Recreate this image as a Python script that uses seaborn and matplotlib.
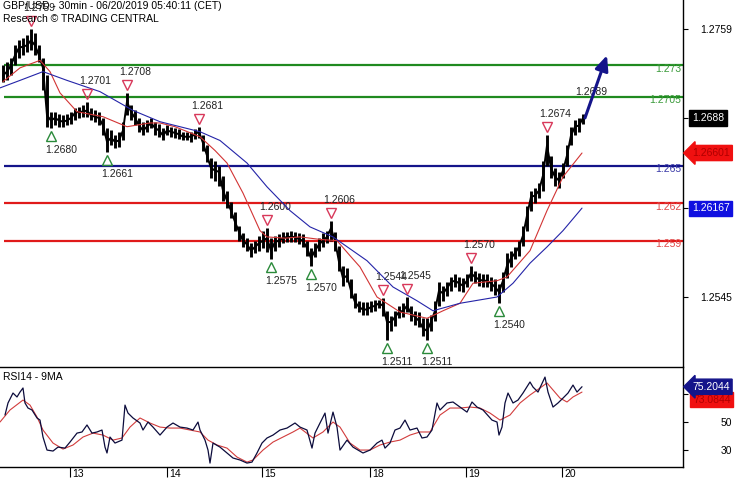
import matplotlib
matplotlib.use('Agg')
import matplotlib.pyplot as plt
import matplotlib.transforms as mtransforms
import numpy as np
import seaborn as sns

# price bars (30min, grouped two at a time)
close = [1.2722, 1.2725, 1.2730, 1.2738, 1.2744, 1.2745, 1.2746, 1.2750, 1.2746, 1.2738,
         1.2728, 1.2690, 1.2686, 1.2688, 1.2686, 1.2685, 1.2686, 1.2688, 1.2692, 1.2693,
         1.2693, 1.2694, 1.2690, 1.2689, 1.2688, 1.2682, 1.2669, 1.2672, 1.2669, 1.2670,
         1.2678, 1.2701, 1.2693, 1.2688, 1.2682, 1.2678, 1.2681, 1.2684, 1.2680, 1.2678,
         1.2674, 1.2678, 1.2677, 1.2676, 1.2675, 1.2673, 1.2673, 1.2673, 1.2675, 1.2677,
         1.2668, 1.2658, 1.2648, 1.2646, 1.2645, 1.2630, 1.2622, 1.2614, 1.2605, 1.2597,
         1.2590, 1.2587, 1.2582, 1.2585, 1.2588, 1.2590, 1.2592, 1.2582, 1.2589, 1.2590,
         1.2592, 1.2593, 1.2593, 1.2593, 1.2591, 1.2590, 1.2584, 1.2576, 1.2582, 1.2587,
         1.2590, 1.2593, 1.2600, 1.2590, 1.2573, 1.2560, 1.2562, 1.2550, 1.2541, 1.2537,
         1.2535, 1.2535, 1.2537, 1.2538, 1.2540, 1.2538, 1.2525, 1.2525, 1.2529, 1.2533,
         1.2534, 1.2538, 1.2532, 1.2529, 1.2526, 1.2520, 1.2518, 1.2525, 1.2534, 1.2550,
         1.2548, 1.2552, 1.2557, 1.2558, 1.2556, 1.2554, 1.2558, 1.2564, 1.2561, 1.2559,
         1.2558, 1.2558, 1.2556, 1.2553, 1.2549, 1.2558, 1.2570, 1.2576, 1.2580, 1.2585,
         1.2594, 1.2610, 1.2625, 1.2626, 1.2630, 1.2642, 1.2666, 1.2648, 1.2641, 1.2638,
         1.2646, 1.2658, 1.2674, 1.2681, 1.2682, 1.2688]
high = [1.2730, 1.2733, 1.2736, 1.2746, 1.2750, 1.2752, 1.2754, 1.2759, 1.2756, 1.2746,
        1.2736, 1.2722, 1.2693, 1.2693, 1.2691, 1.2690, 1.2691, 1.2693, 1.2696, 1.2697,
        1.2698, 1.2701, 1.2696, 1.2694, 1.2693, 1.2688, 1.2680, 1.2678, 1.2674, 1.2677,
        1.2685, 1.2708, 1.2698, 1.2694, 1.2688, 1.2685, 1.2686, 1.2688, 1.2685, 1.2683,
        1.2680, 1.2682, 1.2681, 1.2680, 1.2679, 1.2677, 1.2677, 1.2677, 1.2679, 1.2681,
        1.2674, 1.2666, 1.2656, 1.2654, 1.2650, 1.2642, 1.2630, 1.2621, 1.2613, 1.2602,
        1.2596, 1.2592, 1.2588, 1.2590, 1.2594, 1.2598, 1.2600, 1.2592, 1.2594, 1.2595,
        1.2597, 1.2597, 1.2598, 1.2597, 1.2596, 1.2595, 1.2590, 1.2584, 1.2588, 1.2592,
        1.2596, 1.2598, 1.2606, 1.2597, 1.2586, 1.2570, 1.2568, 1.2559, 1.2548, 1.2542,
        1.2541, 1.2541, 1.2542, 1.2543, 1.2543, 1.2544, 1.2534, 1.2530, 1.2534, 1.2538,
        1.2540, 1.2545, 1.2538, 1.2534, 1.2533, 1.2528, 1.2528, 1.2531, 1.2542, 1.2557,
        1.2554, 1.2557, 1.2561, 1.2563, 1.2561, 1.2560, 1.2563, 1.2570, 1.2566, 1.2564,
        1.2563, 1.2563, 1.2561, 1.2559, 1.2555, 1.2565, 1.2580, 1.2582, 1.2585, 1.2590,
        1.2602, 1.2618, 1.2630, 1.2632, 1.2636, 1.2654, 1.2674, 1.2658, 1.2648, 1.2645,
        1.2652, 1.2666, 1.2681, 1.2686, 1.2688, 1.2691]
low = [1.2717, 1.2718, 1.2722, 1.2730, 1.2736, 1.2738, 1.2741, 1.2742, 1.2738, 1.2733,
       1.2710, 1.2681, 1.2680, 1.2682, 1.2681, 1.2681, 1.2682, 1.2683, 1.2686, 1.2688,
       1.2689, 1.2689, 1.2686, 1.2685, 1.2682, 1.2674, 1.2661, 1.2666, 1.2664, 1.2665,
       1.2670, 1.2690, 1.2686, 1.2682, 1.2677, 1.2674, 1.2677, 1.2680, 1.2674, 1.2673,
       1.2670, 1.2674, 1.2673, 1.2672, 1.2671, 1.2670, 1.2670, 1.2669, 1.2671, 1.2672,
       1.2662, 1.2653, 1.2640, 1.2638, 1.2634, 1.2622, 1.2616, 1.2608, 1.2598, 1.2590,
       1.2585, 1.2582, 1.2577, 1.2580, 1.2582, 1.2584, 1.2581, 1.2575, 1.2582, 1.2585,
       1.2588, 1.2589, 1.2589, 1.2589, 1.2587, 1.2585, 1.2578, 1.2570, 1.2577, 1.2582,
       1.2585, 1.2588, 1.2590, 1.2582, 1.2566, 1.2554, 1.2557, 1.2544, 1.2536, 1.2533,
       1.2531, 1.2531, 1.2533, 1.2534, 1.2536, 1.2530, 1.2511, 1.2518, 1.2522, 1.2528,
       1.2529, 1.2533, 1.2526, 1.2523, 1.2521, 1.2514, 1.2511, 1.2518, 1.2526, 1.2538,
       1.2542, 1.2546, 1.2550, 1.2553, 1.2550, 1.2549, 1.2553, 1.2558, 1.2556, 1.2554,
       1.2553, 1.2553, 1.2550, 1.2547, 1.2540, 1.2549, 1.2560, 1.2569, 1.2575, 1.2578,
       1.2586, 1.2598, 1.2614, 1.2620, 1.2624, 1.2630, 1.2650, 1.2640, 1.2634, 1.2632,
       1.2640, 1.2650, 1.2666, 1.2674, 1.2677, 1.2683]

# swing points flagged on the chart (index into the bars above)
swing_high_idx = [7, 21, 31, 49, 66, 82, 95, 101, 117, 136]
swing_low_idx = [12, 26, 67, 77, 96, 106, 124]

# moving averages (bar position, value)
red_ma_bar = [1.5, 10, 20, 25, 30, 38.5, 51.5, 63.5, 75, 80, 87.5, 100, 107.5, 113.5, 121.5,
              130, 133.5, 142.5, 150, 160, 168.5, 175, 180, 188.5, 200, 213.5, 221.5, 230,
              236.5, 248.5, 253.5, 265, 273.5, 281.5, 291]
red_ma = [1.2717, 1.2728, 1.2734, 1.2725, 1.2708, 1.2693, 1.2689, 1.2681, 1.2684, 1.2684,
          1.2681, 1.2673, 1.2662, 1.2652, 1.2628, 1.2598, 1.2593, 1.2592, 1.2593, 1.2591,
          1.2590, 1.2578, 1.2569, 1.2545, 1.2533, 1.2528, 1.2534, 1.2540, 1.2556, 1.2558,
          1.2561, 1.2582, 1.2614, 1.2641, 1.2660]
blue_ma_bar = [0, 10, 21.5, 33.5, 50, 66.5, 80, 100, 110, 123.5, 133.5, 145, 155, 166.5,
               183.5, 196.5, 208.5, 216.5, 230, 248.5, 256.5, 265, 273.5, 281.5, 291]
blue_ma = [1.2712, 1.2718, 1.2725, 1.2718, 1.2709, 1.2694, 1.2685, 1.2677, 1.2670, 1.2652,
           1.2633, 1.2614, 1.2601, 1.2593, 1.2574, 1.2553, 1.2542, 1.2534, 1.2540, 1.2545,
           1.2556, 1.2572, 1.2585, 1.2598, 1.2616]

# key levels
green_levels = [1.2730, 1.2705]
green_labels = ['1.273', '1.2705']
navy_levels = [1.2650]
navy_labels = ['1.265']
red_levels = [1.2620, 1.2590]
red_labels = ['1.262', '1.259']
arrow_target = (303.5, 1.2738)

# RSI14 and its 9MA
rsi_bar = [2.5, 4, 6.5, 8.5, 10, 11.5, 12.5, 14, 16, 18.5,
           20, 21.5, 23.5, 26.5, 29, 32.5, 35, 38.5, 41, 43.5,
           46, 48.5, 51, 52.5, 53.5, 55, 57.5, 61, 62.5, 64,
           66.5, 70, 71.5, 74, 76.5, 80, 83.5, 86.5, 90, 93.5,
           96.5, 99, 100, 102.5, 104, 105, 106.5, 110, 113.5, 116.5,
           120, 123.5, 126, 128.5, 131, 133.5, 136.5, 140, 143.5, 147.5,
           150, 153.5, 156, 157.5, 160, 162.5, 164, 166.5, 168.5, 170,
           173.5, 176.5, 181.5, 185, 188.5, 191, 192.5, 195, 197.5, 200,
           202.5, 205, 208.5, 211, 213.5, 216, 218.5, 220, 223.5, 226.5,
           230, 233.5, 236, 238.5, 241.5, 246, 248.5, 249.5, 251, 252.5,
           254, 256.5, 259, 261.5, 265, 266.5, 269, 272.5, 274, 276.5,
           279, 281.5, 284, 286.5, 288.5, 291]
rsi = [55.0, 63.6, 70.7, 67.9, 71.4, 74.3, 63.6, 60.0, 58.6, 52.9,
       51.4, 39.3, 30.0, 29.3, 32.1, 31.4, 35.7, 42.1, 42.9, 47.9,
       42.1, 42.9, 44.3, 32.1, 27.9, 39.3, 35.0, 37.1, 62.1, 56.4,
       52.9, 49.3, 44.3, 50.0, 46.4, 40.7, 46.4, 49.3, 46.4, 45.7,
       44.3, 50.0, 44.3, 37.1, 30.0, 20.7, 35.0, 32.1, 27.9, 24.3,
       22.9, 20.7, 21.4, 27.9, 35.0, 38.6, 40.7, 44.3, 45.7, 49.3,
       46.4, 44.3, 31.4, 42.1, 49.3, 56.4, 42.1, 57.1, 46.4, 30.0,
       37.1, 32.1, 27.9, 30.0, 35.0, 37.1, 31.4, 35.0, 44.3, 45.7,
       51.4, 44.3, 45.7, 38.6, 39.3, 44.3, 63.6, 58.6, 63.6, 64.3,
       60.7, 57.1, 64.3, 60.7, 58.6, 51.4, 50.0, 40.7, 46.4, 63.6,
       70.7, 63.6, 65.7, 70.7, 78.6, 75.0, 71.4, 82.1, 71.4, 60.7,
       63.6, 67.1, 70.7, 76.4, 71.4, 75.2044]
rsi_ma_bar = [0, 5, 11.5, 15, 18.5, 21.5, 26.5, 31.5, 36.5, 41.5,
              46.5, 51.5, 56.5, 61, 65, 70, 75, 80, 85, 90,
              95, 100, 104, 108.5, 113.5, 118.5, 123.5, 126.5, 131.5, 136.5,
              141.5, 146.5, 150, 156.5, 161.5, 166.5, 170, 175, 180, 185,
              190, 195, 200, 205, 210, 215, 220, 225, 230, 235,
              240, 245, 250, 255, 260, 265, 270, 273.5, 276.5, 280,
              283.5, 286.5, 291]
rsi_ma = [50.0, 58.6, 65.7, 62.1, 53.6, 44.3, 35.0, 30.7, 33.6, 39.3,
          42.1, 40.7, 37.1, 38.6, 46.4, 52.9, 49.3, 46.4, 45.7, 45.7,
          44.3, 42.9, 37.1, 33.6, 31.4, 25.0, 21.4, 22.9, 30.0, 35.7,
          39.3, 42.9, 45.7, 38.6, 42.9, 50.0, 46.4, 35.0, 30.0, 30.0,
          33.6, 35.7, 37.1, 40.7, 42.9, 42.9, 55.0, 60.0, 60.0, 60.7,
          60.0, 56.4, 51.4, 55.0, 63.6, 69.3, 74.3, 77.9, 72.9, 67.1,
          64.3, 67.9, 71.4]

day_pos = [35, 83.5, 131, 185, 233, 281]
day_labels = ['13', '14', '15', '18', '19', '20']

sns.set_style('white')
plt.rcParams['font.family'] = ['Liberation Sans', 'DejaVu Sans']

W, H = 735, 480
fig = plt.figure(figsize=(W / 100, H / 100), dpi=100)
ax = fig.add_axes([0, 1 - 366 / H, 683 / W, 366 / H])
ax2 = fig.add_axes([0, 1 - 467 / H, 683 / W, 100 / H], sharex=ax)

bars = np.arange(len(close)) * 2 + 1.5

# --- price panel
for lvl, lab in zip(green_levels, green_labels):
    ax.hlines(lvl, 2, 341.5, color='#1f8a1f', lw=1.6, zorder=1)
    ax.text(340.5, lvl - 0.0003, lab, ha='right', va='center', color='#3a9a3a', fontsize=7.5)
for lvl, lab in zip(navy_levels, navy_labels):
    ax.hlines(lvl, 2, 341.5, color='#14148a', lw=1.6, zorder=1)
    ax.text(340.5, lvl - 0.0003, lab, ha='right', va='center', color='#3a3aa8', fontsize=7.5)
for lvl, lab in zip(red_levels, red_labels):
    ax.hlines(lvl, 2, 341.5, color='#e01a1a', lw=1.6, zorder=1)
    ax.text(340.5, lvl - 0.0003, lab, ha='right', va='center', color='#e04848', fontsize=7.5)

ax.vlines(bars, low, high, color='black', lw=2.1, zorder=3)
ax.plot(bars, close, color='black', lw=1.4, zorder=3)
sns.lineplot(x=red_ma_bar, y=red_ma, ax=ax, color='#d23434', lw=0.8, zorder=4)
sns.lineplot(x=blue_ma_bar, y=blue_ma, ax=ax, color='#2424a8', lw=0.8, zorder=4)

up8 = mtransforms.ScaledTranslation(0, 8 / 100, fig.dpi_scale_trans)
dn8 = mtransforms.ScaledTranslation(0, -8 / 100, fig.dpi_scale_trans)
hx = [bars[i] for i in swing_high_idx]
hy = [high[i] for i in swing_high_idx]
lx = [bars[i] for i in swing_low_idx]
ly = [low[i] for i in swing_low_idx]
ax.plot(hx, hy, 'v', ms=7.5, mfc='none', mec='#d8385a', mew=1.0,
        transform=ax.transData + up8, zorder=5)
ax.plot(lx, ly, '^', ms=7.5, mfc='none', mec='#2a8a3a', mew=1.0,
        transform=ax.transData + dn8, zorder=5)
for x, y in zip(hx, hy):
    ax.annotate(f'{y:.4f}', (x, y), xytext=(8, 21), textcoords='offset pixels',
                ha='center', va='center', fontsize=7.5, color='#222222')
for x, y in zip(lx, ly):
    ax.annotate(f'{y:.4f}', (x, y), xytext=(10, -22), textcoords='offset pixels',
                ha='center', va='center', fontsize=7.5, color='#222222')

ax.annotate('1.2689', (bars[-1], high[-1]), xytext=(8, 22), textcoords='offset pixels',
            ha='center', va='center', fontsize=7.5, color='#222222')
ax.annotate('', xy=arrow_target, xytext=(bars[-1] + 1, close[-1]),
            arrowprops=dict(arrowstyle='-|>,head_length=0.9,head_width=0.4',
                            color='#14148a', lw=2.2, shrinkA=0, shrinkB=0), zorder=6)

ax.set_xlim(0, 341.5)
ax.set_ylim(1.24899, 1.27822)
ax.yaxis.tick_right()
ax.set_yticks([1.2759, 1.2545])
ax.set_yticklabels(['1.2759', '1.2545'])
ax.set_yticks([1.2688, 1.2616], minor=True)
ax.tick_params(axis='y', which='both', direction='out', length=3.6, width=0.8,
               right=True, left=False, labelsize=7.5, pad=31.7, colors='black')
for lbl in ax.get_yticklabels():
    lbl.set_horizontalalignment('right')
ax.tick_params(axis='x', bottom=False, labelbottom=False)
for s in ['left', 'top', 'bottom']:
    ax.spines[s].set_visible(False)
ax.spines['right'].set_color('black')
ax.spines['right'].set_linewidth(1)
ax.set_xlabel('')
ax.set_ylabel('')

# right-hand value tags
tr = mtransforms.blended_transform_factory(ax.transAxes, ax.transData)
ax.text(692 / 683, close[-1], f'{close[-1]:.4f}', transform=tr, ha='left', va='center',
        color='white', fontsize=7.5,
        bbox=dict(boxstyle='square,pad=0.3', fc='black', ec='black'))
ax.text(692 / 683, red_ma[-1], '1.26601', transform=tr, ha='left', va='center',
        color='#b00000', fontsize=7.5,
        bbox=dict(boxstyle='larrow,pad=0.25', fc='#f01010', ec='#f01010'))
ax.text(692 / 683, blue_ma[-1], '1.26167', transform=tr, ha='left', va='center',
        color='white', fontsize=7.5,
        bbox=dict(boxstyle='square,pad=0.25', fc='#1010e0', ec='#1010e0'))

fig.text(3 / W, 1 - 1 / H, 'GBP/USD - 30min - 06/20/2019 05:40:11 (CET)',
         ha='left', va='top', fontsize=7.5, color='black')
fig.text(3 / W, 1 - 14 / H, 'Research \u00a9 TRADING CENTRAL',
         ha='left', va='top', fontsize=7.5, color='black')

# --- RSI panel
sns.lineplot(x=rsi_ma_bar, y=rsi_ma, ax=ax2, color='#d23c3c', lw=0.8)
sns.lineplot(x=rsi_bar, y=rsi, ax=ax2, color='#0c0c3c', lw=0.9)
ax2.set_ylim(17.9, 89.3)
ax2.yaxis.tick_right()
ax2.set_yticks([70, 50, 30])
ax2.set_yticklabels(['70', '50', '30'])
ax2.tick_params(axis='y', direction='out', length=3.6, width=0.8, right=True, left=False,
                labelsize=7.5, pad=31.7, colors='black')
for lbl in ax2.get_yticklabels():
    lbl.set_horizontalalignment('right')
ax2.set_xticks(day_pos)
ax2.set_xticklabels(day_labels)
ax2.tick_params(axis='x', direction='out', length=7.2, width=0.8, bottom=True,
                labelsize=7.5, pad=-5.8, colors='black')
shift = mtransforms.ScaledTranslation(2 / 100, 0, fig.dpi_scale_trans)
for lbl in ax2.get_xticklabels():
    lbl.set_horizontalalignment('left')
    lbl.set_transform(lbl.get_transform() + shift)
ax2.spines['left'].set_visible(False)
for s in ['top', 'bottom', 'right']:
    ax2.spines[s].set_color('black')
    ax2.spines[s].set_linewidth(1)
ax2.set_xlabel('')
ax2.set_ylabel('')
ax2.text(3 / 683, 0.95, 'RSI14 - 9MA', transform=ax2.transAxes, ha='left', va='top',
         fontsize=7.5, color='black')

tr2 = mtransforms.blended_transform_factory(ax2.transAxes, ax2.transData)
ax2.text(692 / 683, rsi[-1], f'{rsi[-1]:.4f}', transform=tr2,
         ha='left', va='center', color='white', fontsize=7.5, zorder=6,
         bbox=dict(boxstyle='larrow,pad=0.25', fc='#14148a', ec='#14148a'))
ax2.annotate('73.0844', (1, rsi[-1]), xycoords=tr2, xytext=(10, -13),
             textcoords='offset pixels', ha='left', va='center', color='#b00000',
             fontsize=7.5, zorder=5,
             bbox=dict(boxstyle='square,pad=0.25', fc='#f01010', ec='#f01010'))

fig.savefig('out.png', dpi=100)
